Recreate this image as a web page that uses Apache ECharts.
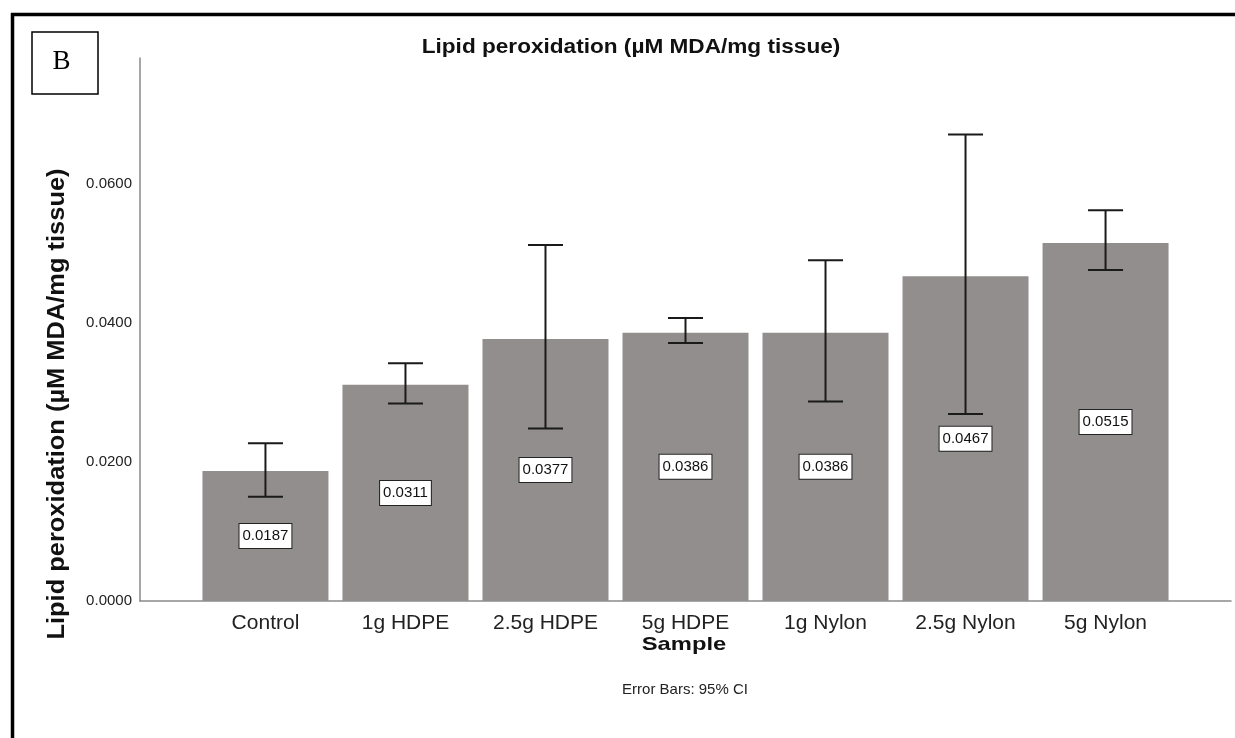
<!DOCTYPE html>
<html>
<head>
<meta charset="utf-8">
<script src="https://cdn.jsdelivr.net/npm/echarts@6/dist/echarts.min.js"></script>
<style>
html,body{margin:0;padding:0;background:#fff;}
#chart{width:1235px;height:738px;}
</style>
</head>
<body>
<div id="chart"></div>
<script>
const categories = ['Control', '1g HDPE', '2.5g HDPE', '5g HDPE', '1g Nylon', '2.5g Nylon', '5g Nylon'];
const means = [0.0187, 0.0311, 0.0377, 0.0386, 0.0386, 0.0467, 0.0515];
const ciLower = [0.0150, 0.0284, 0.0248, 0.0371, 0.0287, 0.0269, 0.0476];
const ciUpper = [0.0227, 0.0342, 0.0512, 0.0407, 0.0490, 0.0671, 0.0562];
const yTicks = [0, 0.02, 0.04, 0.06];

const FONT = '"Liberation Sans", Arial, sans-serif';
const chart = echarts.init(document.getElementById('chart'));

const barData = means.map((v, i) => [i, v]);
const errData = means.map((v, i) => [i, ciLower[i], ciUpper[i]]);

chart.setOption({
  animation: false,
  backgroundColor: '#fff',
  grid: { left: 140, right: 4, top: 58, bottom: 137, containLabel: false },
  xAxis: {
    type: 'value',
    min: -0.896,
    max: 6.896,
    axisLine: { show: true, onZero: false, lineStyle: { color: '#8a8a8a', width: 1.5 } },
    axisTick: { show: false },
    splitLine: { show: false },
    axisLabel: {
      customValues: categories.map((c, i) => i),
      formatter: v => categories[Math.round(v)] || '',
      fontFamily: FONT, fontSize: 21, color: '#222', margin: 12
    }
  },
  yAxis: {
    type: 'value',
    min: 0,
    max: 0.0781,
    axisLine: { show: true, onZero: false, lineStyle: { color: '#8a8a8a', width: 1.5 } },
    axisTick: { show: false },
    splitLine: { show: false },
    axisLabel: {
      customValues: yTicks,
      formatter: v => v.toFixed(4),
      fontFamily: FONT, fontSize: 15, color: '#222', margin: 8
    }
  },
  series: [
    {
      type: 'bar',
      data: barData,
      barWidth: 126,
      itemStyle: { color: '#928e8d' },
      label: {
        show: true,
        position: 'inside',
        formatter: p => p.value[1].toFixed(4),
        fontFamily: FONT, fontSize: 15, color: '#111',
        backgroundColor: '#fff', borderColor: '#222', borderWidth: 1,
        padding: [5, 3, 4, 3]
      }
    },
    {
      type: 'custom',
      data: errData,
      z: 10,
      renderItem: function (params, api) {
        const x = api.value(0);
        const lo = api.coord([x, api.value(1)]);
        const hi = api.coord([x, api.value(2)]);
        const hw = 17.5;
        const style = { stroke: '#1a1a1a', lineWidth: 2 };
        return {
          type: 'group',
          children: [
            { type: 'line', shape: { x1: hi[0], y1: hi[1], x2: lo[0], y2: lo[1] }, style: style },
            { type: 'line', shape: { x1: hi[0] - hw, y1: hi[1], x2: hi[0] + hw, y2: hi[1] }, style: style },
            { type: 'line', shape: { x1: lo[0] - hw, y1: lo[1], x2: lo[0] + hw, y2: lo[1] }, style: style }
          ]
        };
      }
    }
  ],
  graphic: [
    { type: 'line', shape: { x1: 12.5, y1: 13, x2: 12.5, y2: 738 }, style: { stroke: '#000', lineWidth: 3.5 } },
    { type: 'line', shape: { x1: 11, y1: 14.5, x2: 1235, y2: 14.5 }, style: { stroke: '#000', lineWidth: 3.5 } },
    { type: 'rect', shape: { x: 32, y: 32, width: 66, height: 62 }, style: { fill: '#fff', stroke: '#000', lineWidth: 1.5 } },
    { type: 'text', x: 61.5, y: 62, style: { text: 'B', font: '27px "Liberation Serif", "Times New Roman", serif', fill: '#000', textAlign: 'center', textVerticalAlign: 'middle' } },
    { type: 'text', x: 631, y: 47, scaleX: 1.13, style: { text: 'Lipid peroxidation (µM MDA/mg tissue)', font: 'bold 20px ' + FONT, fill: '#111', textAlign: 'center', textVerticalAlign: 'middle' } },
    { type: 'text', x: 57, y: 404, rotation: Math.PI / 2, scaleX: 1.06, style: { text: 'Lipid peroxidation (µM MDA/mg tissue)', font: 'bold 24px ' + FONT, fill: '#111', textAlign: 'center', textVerticalAlign: 'middle' } },
    { type: 'text', x: 684, y: 645, scaleX: 1.25, style: { text: 'Sample', font: 'bold 19px ' + FONT, fill: '#111', textAlign: 'center', textVerticalAlign: 'middle' } },
    { type: 'text', x: 685, y: 690, style: { text: 'Error Bars: 95% CI', font: '15px ' + FONT, fill: '#222', textAlign: 'center', textVerticalAlign: 'middle' } }
  ]
});
</script>
</body>
</html>
